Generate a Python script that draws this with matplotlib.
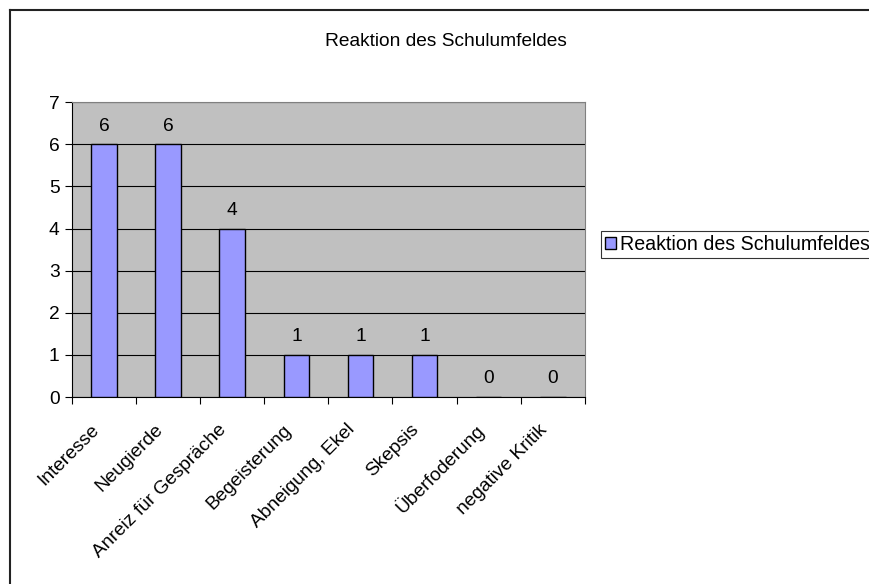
import matplotlib.pyplot as plt
import matplotlib.transforms as mtransforms
from matplotlib.lines import Line2D
import numpy as np

plt.rcParams['font.family'] = ['Liberation Sans', 'DejaVu Sans']

categories = ["Interesse", "Neugierde", "Anreiz für Gespräche", "Begeisterung",
              "Abneigung, Ekel", "Skepsis", "Überfoderung", "negative Kritik"]
values = [6, 6, 4, 1, 1, 1, 0, 0]
series_name = "Reaktion des Schulumfeldes"

fs = 13.8

fig = plt.figure(figsize=(8.69, 5.84), dpi=100)
ax = fig.add_axes([0.0829, 0.320, 0.590, 0.505])

# chart border (only top and left edges visible in the original)
fig.lines.append(Line2D([0.0115, 1.0], [0.983, 0.983], transform=fig.transFigure,
                        color='#222222', linewidth=1.5))
fig.lines.append(Line2D([0.0115, 0.0115], [0.0, 0.983], transform=fig.transFigure,
                        color='#222222', linewidth=1.5))

x = np.arange(len(categories))
ax.set_facecolor('#C0C0C0')
bars = ax.bar(x, values, width=0.4, color='#9999FF', edgecolor='black', linewidth=1,
              label=series_name, zorder=3)

for xi, v in zip(x, values):
    ax.annotate(str(v), (xi, v), xytext=(0, 7), textcoords='offset points',
                ha='center', va='bottom', fontsize=fs)

ax.set_xlim(-0.5, len(categories) - 0.5)
ax.set_ylim(0, 7)
ax.set_yticks(range(8))
ax.yaxis.grid(True, color='black', linewidth=0.8, zorder=0)
ax.set_axisbelow(True)

ax.set_xticks(np.arange(len(categories) + 1) - 0.5)
ax.set_xticklabels([])
ax.set_xticks(x, minor=True)
labels = ax.set_xticklabels(categories, minor=True, rotation=45, ha='right',
                            va='center', rotation_mode='anchor', fontsize=fs)
ax.tick_params(axis='x', which='minor', length=0, pad=0)
ax.tick_params(axis='x', which='major', length=5, direction='out')
ax.tick_params(axis='y', length=5, direction='out', labelsize=fs, pad=4)

# shift rotated labels down-left like the original
shift = mtransforms.ScaledTranslation(-8 / 100, -30 / 100, fig.dpi_scale_trans)
for lab in labels:
    lab.set_transform(lab.get_transform() + shift)

for s in ['top', 'right']:
    ax.spines[s].set_color('#808080')
for s in ['left', 'bottom']:
    ax.spines[s].set_color('black')

fig.text(0.513, 0.929, "Reaktion des Schulumfeldes", ha='center', va='center', fontsize=fs)

leg = fig.legend(handles=[bars], labels=[series_name], loc='center left',
                 bbox_to_anchor=(0.6916, 0.582), frameon=True, fancybox=False,
                 edgecolor='black', fontsize=14.1, handlelength=0.55, handleheight=0.55,
                 handletextpad=0.2, borderpad=0.2, borderaxespad=0)
leg.get_frame().set_linewidth(0.8)

fig.savefig("out.png", dpi=100)
